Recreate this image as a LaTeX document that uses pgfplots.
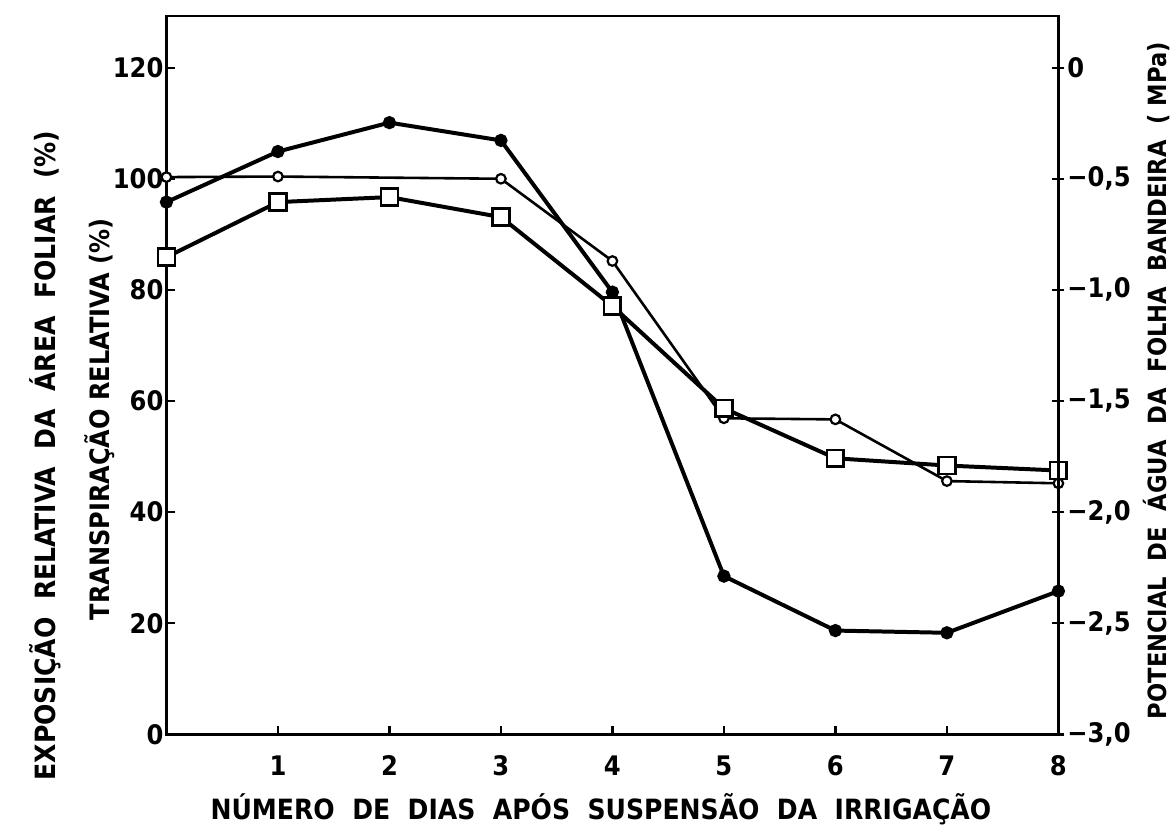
\documentclass[border=0pt]{standalone}
\usepackage{fontspec}
\setmainfont{DejaVu Sans Condensed}
\usepackage{pgfplots}
\pgfplotsset{compat=1.18}

\pgfplotstableread{
x y
0 95.8
1 104.9
2 110.1
3 106.9
4 79.6
5 28.5
6 18.7
7 18.3
8 25.8
}\filled
\pgfplotstableread{
x y
0 100.3
1 100.4
3 100.0
4 85.2
5 56.9
6 56.7
7 45.6
8 45.2
}\opencirc
\pgfplotstableread{
x y
0 85.9
1 95.8
2 96.7
3 93.1
4 77.1
5 58.7
6 49.7
7 48.4
8 47.5
}\squares

\newcommand{\lab}{\fontsize{13.5}{16}\selectfont\bfseries}
\newcommand{\ttl}{\fontsize{14}{16}\selectfont\bfseries}

\begin{document}
\begin{tikzpicture}
\begin{axis}[
    name=ax,
    scale only axis,
    width=447.5pt, height=360.5pt,
    xmin=0, xmax=8, ymin=0, ymax=129.3,
    axis line style={line width=1.3pt},
    every tick/.style={black, line width=1.1pt},
    major tick length=4.5pt,
    tick align=inside,
    xtick={0,...,8}, xticklabels={,1,2,3,4,5,6,7,8},
    ytick={0,20,...,120},
    xtick pos=bottom, ytick pos=left,
    ticklabel style={font=\lab},
    yticklabel style={xshift=2pt},
    xticklabel style={yshift=-7pt},
    /pgf/number format/assume math mode=true,
    clip=false,
]
\addplot[black, line width=1.3pt, mark=*, mark size=2.4pt,
    mark options={fill=white, line width=1.1pt}] table {\opencirc};
\addplot[black, line width=2pt, mark=*, mark size=2.3pt] table {\filled};
\addplot[black, line width=2pt, mark=square*, mark size=4.2pt,
    mark options={fill=white, line width=1.3pt, rounded corners=1.5pt}] table {\squares};
\end{axis}
\begin{axis}[
    scale only axis,
    width=447.5pt, height=360.5pt,
    xmin=0, xmax=8, ymin=-3, ymax=0.2325,
    hide x axis,
    axis y line*=right,
    axis line style={line width=1.3pt},
    every tick/.style={black, line width=1.1pt},
    major tick length=6pt,
    tick align=center,
    ytick={-3,-2.5,-2,-1.5,-1,-0.5,0},
    yticklabels={{−3,0},{−2,5},{−2,0},{−1,5},{−1,0},{−0,5},{0}},
    yticklabel style={font=\lab, xshift=-2pt},
]
\end{axis}
\node[rotate=90, font=\ttl] at ([xshift=-61pt, yshift=140pt]ax.south west)
    {EXPOSIÇÃO\ \ RELATIVA\ \ DA\ \ ÁREA\ \ FOLIAR\ \ (\%)};
\node[rotate=90, font=\fontsize{13.4}{16}\selectfont\bfseries] at ([xshift=-33.5pt, yshift=158pt]ax.south west)
    {TRANSPIRAÇÃO RELATIVA (\%)};
\node[rotate=90, font=\fontsize{12.6}{16}\selectfont\bfseries] at ([xshift=49pt, yshift=177.5pt]ax.south east)
    {POTENCIAL\ \ DE\ \ ÁGUA\ \ DA\ \ FOLHA\ \ BANDEIRA\ \ ( MPa)};
\node[font=\ttl] at ([xshift=218pt, yshift=-37.5pt]ax.south west)
    {NÚMERO\ \ DE\ \ DIAS\ \ APÓS\ \ SUSPENSÃO\ \ DA\ \ IRRIGAÇÃO};
\path[use as bounding box] ([xshift=-83.5pt, yshift=-49pt]ax.south west)
    rectangle ([xshift=57pt, yshift=8pt]ax.north east);
\end{tikzpicture}
\end{document}
